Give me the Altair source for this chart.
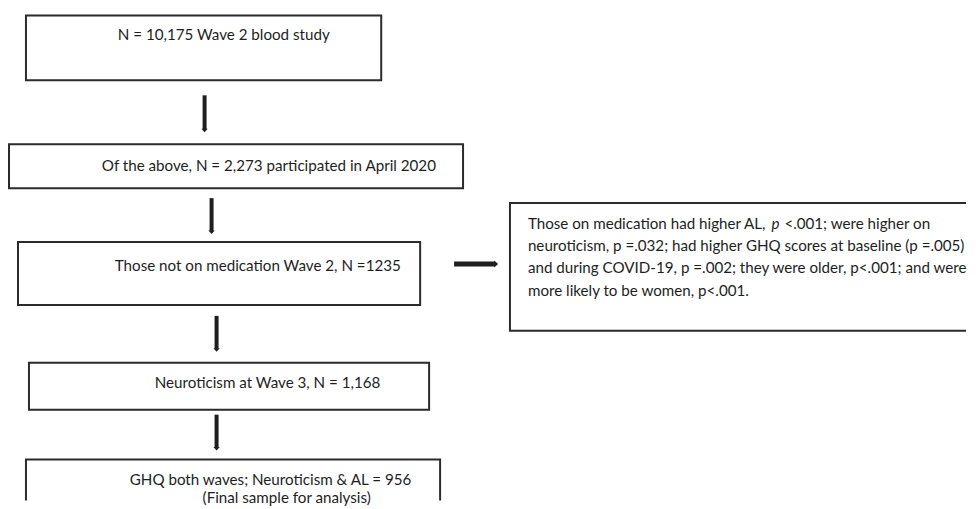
import altair as alt
import pandas as pd

# ---- content ----
box_texts = [
    "N = 10,175 Wave 2 blood study",
    "Of the above, N = 2,273 participated in April 2020",
    "Those not on medication Wave 2, N =1235",
    "Neuroticism at Wave 3, N = 1,168",
    "GHQ both waves; Neuroticism & AL = 956",
    "(Final sample for analysis)",
]
side_texts = [
    "Those on medication had higher AL,",
    "p",
    "<.001; were higher on",
    "neuroticism, p =.032; had higher GHQ scores at baseline (p =.005)",
    "and during COVID-19, p =.002; they were older, p<.001; and were",
    "more likely to be women, p<.001.",
]
side_styles = ["normal", "italic", "normal", "normal", "normal", "normal"]

# ---- layout (page pixel coordinates) ----
box_x0 = [26, 9, 18, 29, 26, 511]
box_x1 = [382, 464, 421, 430, 441, 995]
box_y0 = [15, 144, 242, 363, 460, 203]
box_y1 = [80, 188, 305, 410, 530, 331]

box_text_x = [118, 102, 115, 155, 130, 203]
box_text_y = [35, 166, 266, 383, 480, 499]

side_text_x = [529, 773, 786, 529, 529, 529]
side_text_y = [224, 224, 224, 246, 268, 291]

arrow_x = [205, 212, 217, 217]
arrow_y0 = [95, 198, 316, 415]
arrow_y1 = [133, 235, 353, 452]

harrow_x0 = [455]
harrow_x1 = [500]
harrow_y = [264]

FONT = "Lato"
FS = 15.2
INK = "#1e1e1e"

xs = alt.Scale(domain=[8, 968])
ys = alt.Scale(domain=[8, 501], reverse=True)

boxes = pd.DataFrame({"x0": box_x0, "x1": box_x1, "y0": box_y0, "y1": box_y1})
btext = pd.DataFrame({"t": box_texts, "x": box_text_x, "y": box_text_y})
stext = pd.DataFrame({"t": side_texts, "x": side_text_x, "y": side_text_y, "s": side_styles})
arrows = pd.DataFrame({"x": arrow_x, "y0": arrow_y0, "y1": arrow_y1})
arrows["ys"] = arrows["y1"] - 4
arrows["yh"] = arrows["y1"] - 3
harrows = pd.DataFrame({"x0": harrow_x0, "x1": harrow_x1, "y": harrow_y})
harrows["xs"] = harrows["x1"] - 4
harrows["xh"] = harrows["x1"] - 3

box_layer = alt.Chart(boxes).mark_rect(
    fill="white", stroke="#2b2b2b", strokeWidth=2, clip=True
).encode(
    x=alt.X("x0:Q", scale=xs, axis=None),
    x2="x1:Q",
    y=alt.Y("y0:Q", scale=ys, axis=None),
    y2="y1:Q",
)

btext_layer = alt.Chart(btext).mark_text(
    align="left", baseline="middle", font=FONT, fontSize=FS, color=INK
).encode(
    x=alt.X("x:Q", scale=xs, axis=None),
    y=alt.Y("y:Q", scale=ys, axis=None),
    text="t:N",
)

stext_normal = alt.Chart(stext).transform_filter(alt.datum.s == "normal").mark_text(
    align="left", baseline="middle", font=FONT, fontSize=FS, color=INK
).encode(
    x=alt.X("x:Q", scale=xs, axis=None),
    y=alt.Y("y:Q", scale=ys, axis=None),
    text="t:N",
)
stext_italic = alt.Chart(stext).transform_filter(alt.datum.s == "italic").mark_text(
    align="left", baseline="middle", font=FONT, fontSize=FS, color=INK, fontStyle="italic"
).encode(
    x=alt.X("x:Q", scale=xs, axis=None),
    y=alt.Y("y:Q", scale=ys, axis=None),
    text="t:N",
)

shaft = alt.Chart(arrows).mark_rule(color=INK, strokeWidth=4).encode(
    x=alt.X("x:Q", scale=xs, axis=None),
    y=alt.Y("y0:Q", scale=ys, axis=None),
    y2="ys:Q",
)
head = alt.Chart(arrows).mark_point(
    shape="M-1,-0.5L1,-0.5L0,0.6Z", filled=True, color=INK, opacity=1, size=40
).encode(
    x=alt.X("x:Q", scale=xs, axis=None),
    y=alt.Y("yh:Q", scale=ys, axis=None),
)

hshaft = alt.Chart(harrows).mark_rule(color=INK, strokeWidth=5).encode(
    x=alt.X("x0:Q", scale=xs, axis=None),
    x2="xs:Q",
    y=alt.Y("y:Q", scale=ys, axis=None),
)
hhead = alt.Chart(harrows).mark_point(
    shape="M-0.5,-1L-0.5,1L0.6,0Z", filled=True, color=INK, opacity=1, size=50
).encode(
    x=alt.X("xh:Q", scale=xs, axis=None),
    y=alt.Y("y:Q", scale=ys, axis=None),
)

chart = alt.layer(
    box_layer, btext_layer, stext_normal, stext_italic, shaft, head, hshaft, hhead
).properties(
    width=960, height=493, padding=0, background="white"
).configure_view(stroke=None)

chart.save("out.html", embed_options={"renderer": "svg", "actions": False})
